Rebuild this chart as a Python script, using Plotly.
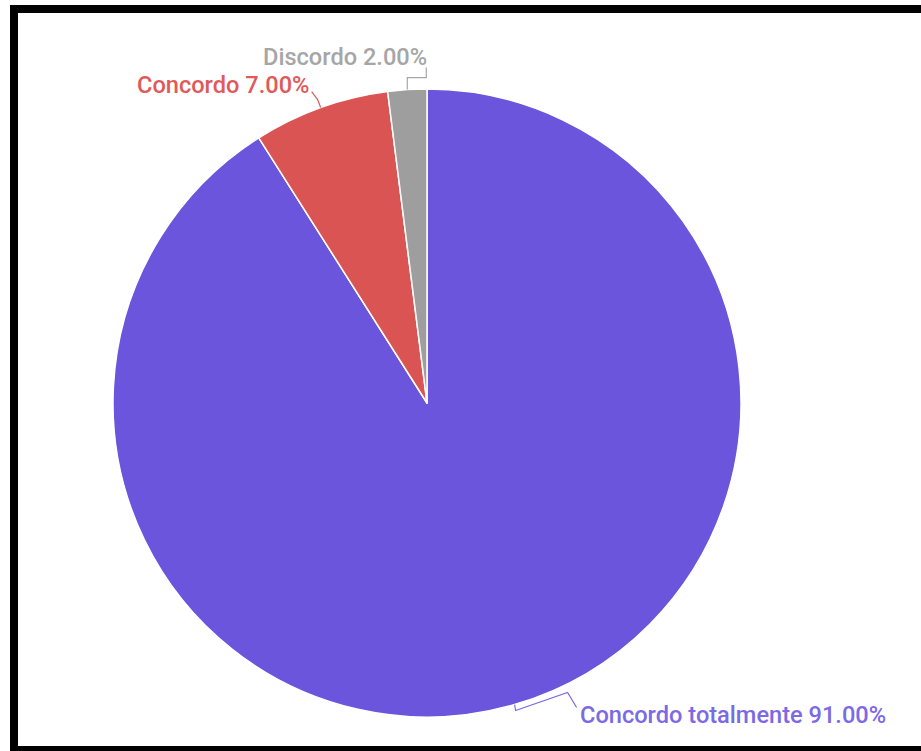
import math
import plotly.graph_objects as go

labels = ["Concordo totalmente", "Concordo", "Discordo"]
values = [91.0, 7.0, 2.0]
slice_colors = ["#6B55DC", "#DB5454", "#9E9E9E"]
label_colors = ["#7B69E6", "#E05A5A", "#A6A6A6"]

W, H = 921, 751
cx, cy, R = 427, 403, 314  # pie centre / radius in figure pixels


def px2paper(x, y):
    return x / W, 1 - y / H


def arc_point(cum_frac, r):
    th = 2 * math.pi * cum_frac
    return cx + r * math.sin(th), cy - r * math.cos(th)


fig = go.Figure()
fig.add_trace(go.Pie(
    labels=labels, values=values, sort=False, direction="clockwise",
    rotation=0, textinfo="none", hoverinfo="label+percent",
    marker=dict(colors=slice_colors, line=dict(color="white", width=1.5)),
    domain=dict(x=[(cx - R) / W, (cx + R) / W], y=[1 - (cy + R) / H, 1 - (cy - R) / H]),
    showlegend=False,
))

total = sum(values)
mids = []
c = 0
for v in values:
    mids.append((c + v / 2) / total)
    c += v

shapes = []
annotations = []


def path_of(points):
    s = ""
    for i, (x, y) in enumerate(points):
        X, Y = px2paper(x, y)
        s += ("M" if i == 0 else "L") + f"{X:.5f},{Y:.5f} "
    return s


# Leader lines and labels (offsets in pixels are styling)
leaders = [
    lambda p: [p, (p[0] + 1, p[1] + 6), (p[0] + 53, p[1] - 12), (p[0] + 62, p[1] + 3)],
    lambda p: [p, (p[0] - 3, p[1] - 8), (p[0] - 9, p[1] - 16)],
    lambda p: [p, (p[0], p[1] - 12), (p[0] + 19, p[1] - 12), (p[0] + 19, p[1] - 22)],
]
text_pos = [
    lambda p: (p[0] + 63, p[1] + 10, "left"),
    lambda p: (p[0] - 10, p[1] - 23, "right"),
    lambda p: (p[0] + 22, p[1] - 33, "right"),
]

for i, (lab, v) in enumerate(zip(labels, values)):
    p = arc_point(mids[i], R)
    pts = leaders[i](p)
    shapes.append(dict(type="path", xref="paper", yref="paper", path=path_of(pts),
                       line=dict(color=label_colors[i], width=1.2)))
    tx, ty, anchor = text_pos[i](p)
    X, Y = px2paper(tx, ty)
    annotations.append(dict(
        x=X, y=Y, xref="paper", yref="paper", showarrow=False,
        xanchor=anchor, yanchor="middle",
        text=f"{lab} {v / total * 100:.2f}%",
        font=dict(family="Roboto", size=23.6, color=label_colors[i], weight=500),
    ))

# outer frame (left, top and bottom edges visible; right edge beyond the page)
shapes.append(dict(type="rect", xref="paper", yref="paper", layer="above",
                   x0=14 / W, x1=1.2, y0=1 - 750 / H, y1=1 - 9 / H,
                   line=dict(color="black", width=8)))

fig.update_layout(
    width=W, height=H, autosize=False,
    margin=dict(l=0, r=0, t=0, b=0),
    paper_bgcolor="white", plot_bgcolor="white",
    shapes=shapes, annotations=annotations,
    font=dict(family="Roboto"),
)

fig.write_html(
    "out.html",
    config={"displayModeBar": False},
    post_script="document.body.style.margin='0';document.body.style.overflow='hidden';",
)
